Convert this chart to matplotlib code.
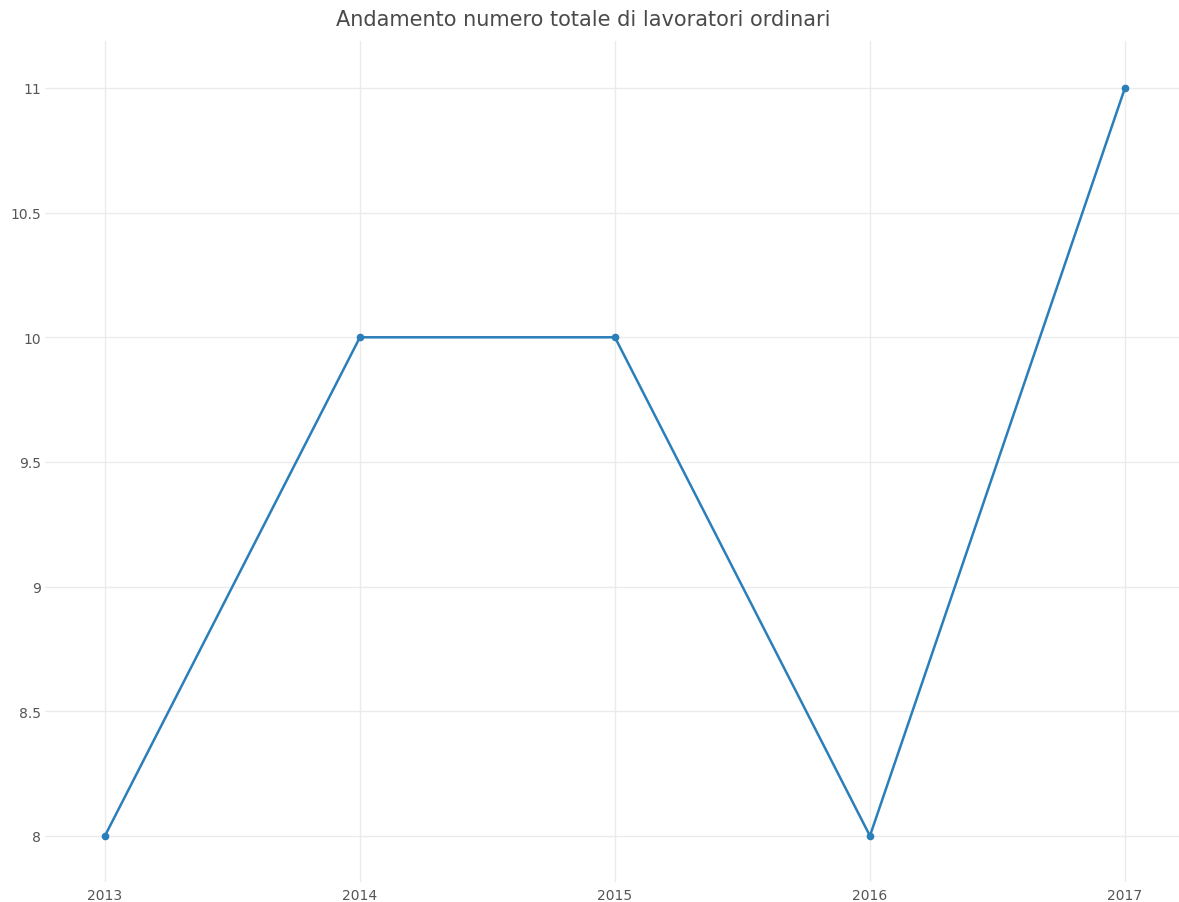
import matplotlib
matplotlib.use("Agg")
import matplotlib.pyplot as plt

# dati
anni = [2013, 2014, 2015, 2016, 2017]
lavoratori = [8, 10, 10, 8, 11]
y_ticks = [8, 8.5, 9, 9.5, 10, 10.5, 11]
y_labels = ["8", "8.5", "9", "9.5", "10", "10.5", "11"]

fig = plt.figure(figsize=(11.79, 9.03), dpi=100)
ax = fig.add_axes([45 / 1179, 1 - 883 / 903, 1 - 45 / 1179, (883 - 42) / 903])

ax.plot(anni, lavoratori, color="#2a7fba", linewidth=1.8, marker="o", markersize=4.5, zorder=3)

ax.set_xlim(2012.765, 2017.212)
ax.set_ylim(7.815, 11.1885)
ax.set_xticks(anni)
ax.set_xticklabels([str(a) for a in anni])
ax.set_yticks(y_ticks)
ax.set_yticklabels(y_labels)

ax.grid(True, color="#ebebeb", linewidth=1)
ax.set_axisbelow(True)
for s in ax.spines.values():
    s.set_visible(False)
ax.tick_params(length=0, labelsize=10, colors="#555555")
ax.tick_params(axis="x", pad=4)
ax.tick_params(axis="y", pad=3)

fig.text(0.495, 1 - 20 / 903, "Andamento numero totale di lavoratori ordinari",
         ha="center", va="center", fontsize=15, color="#4a4a4a")

fig.savefig("out.png", dpi=100)
